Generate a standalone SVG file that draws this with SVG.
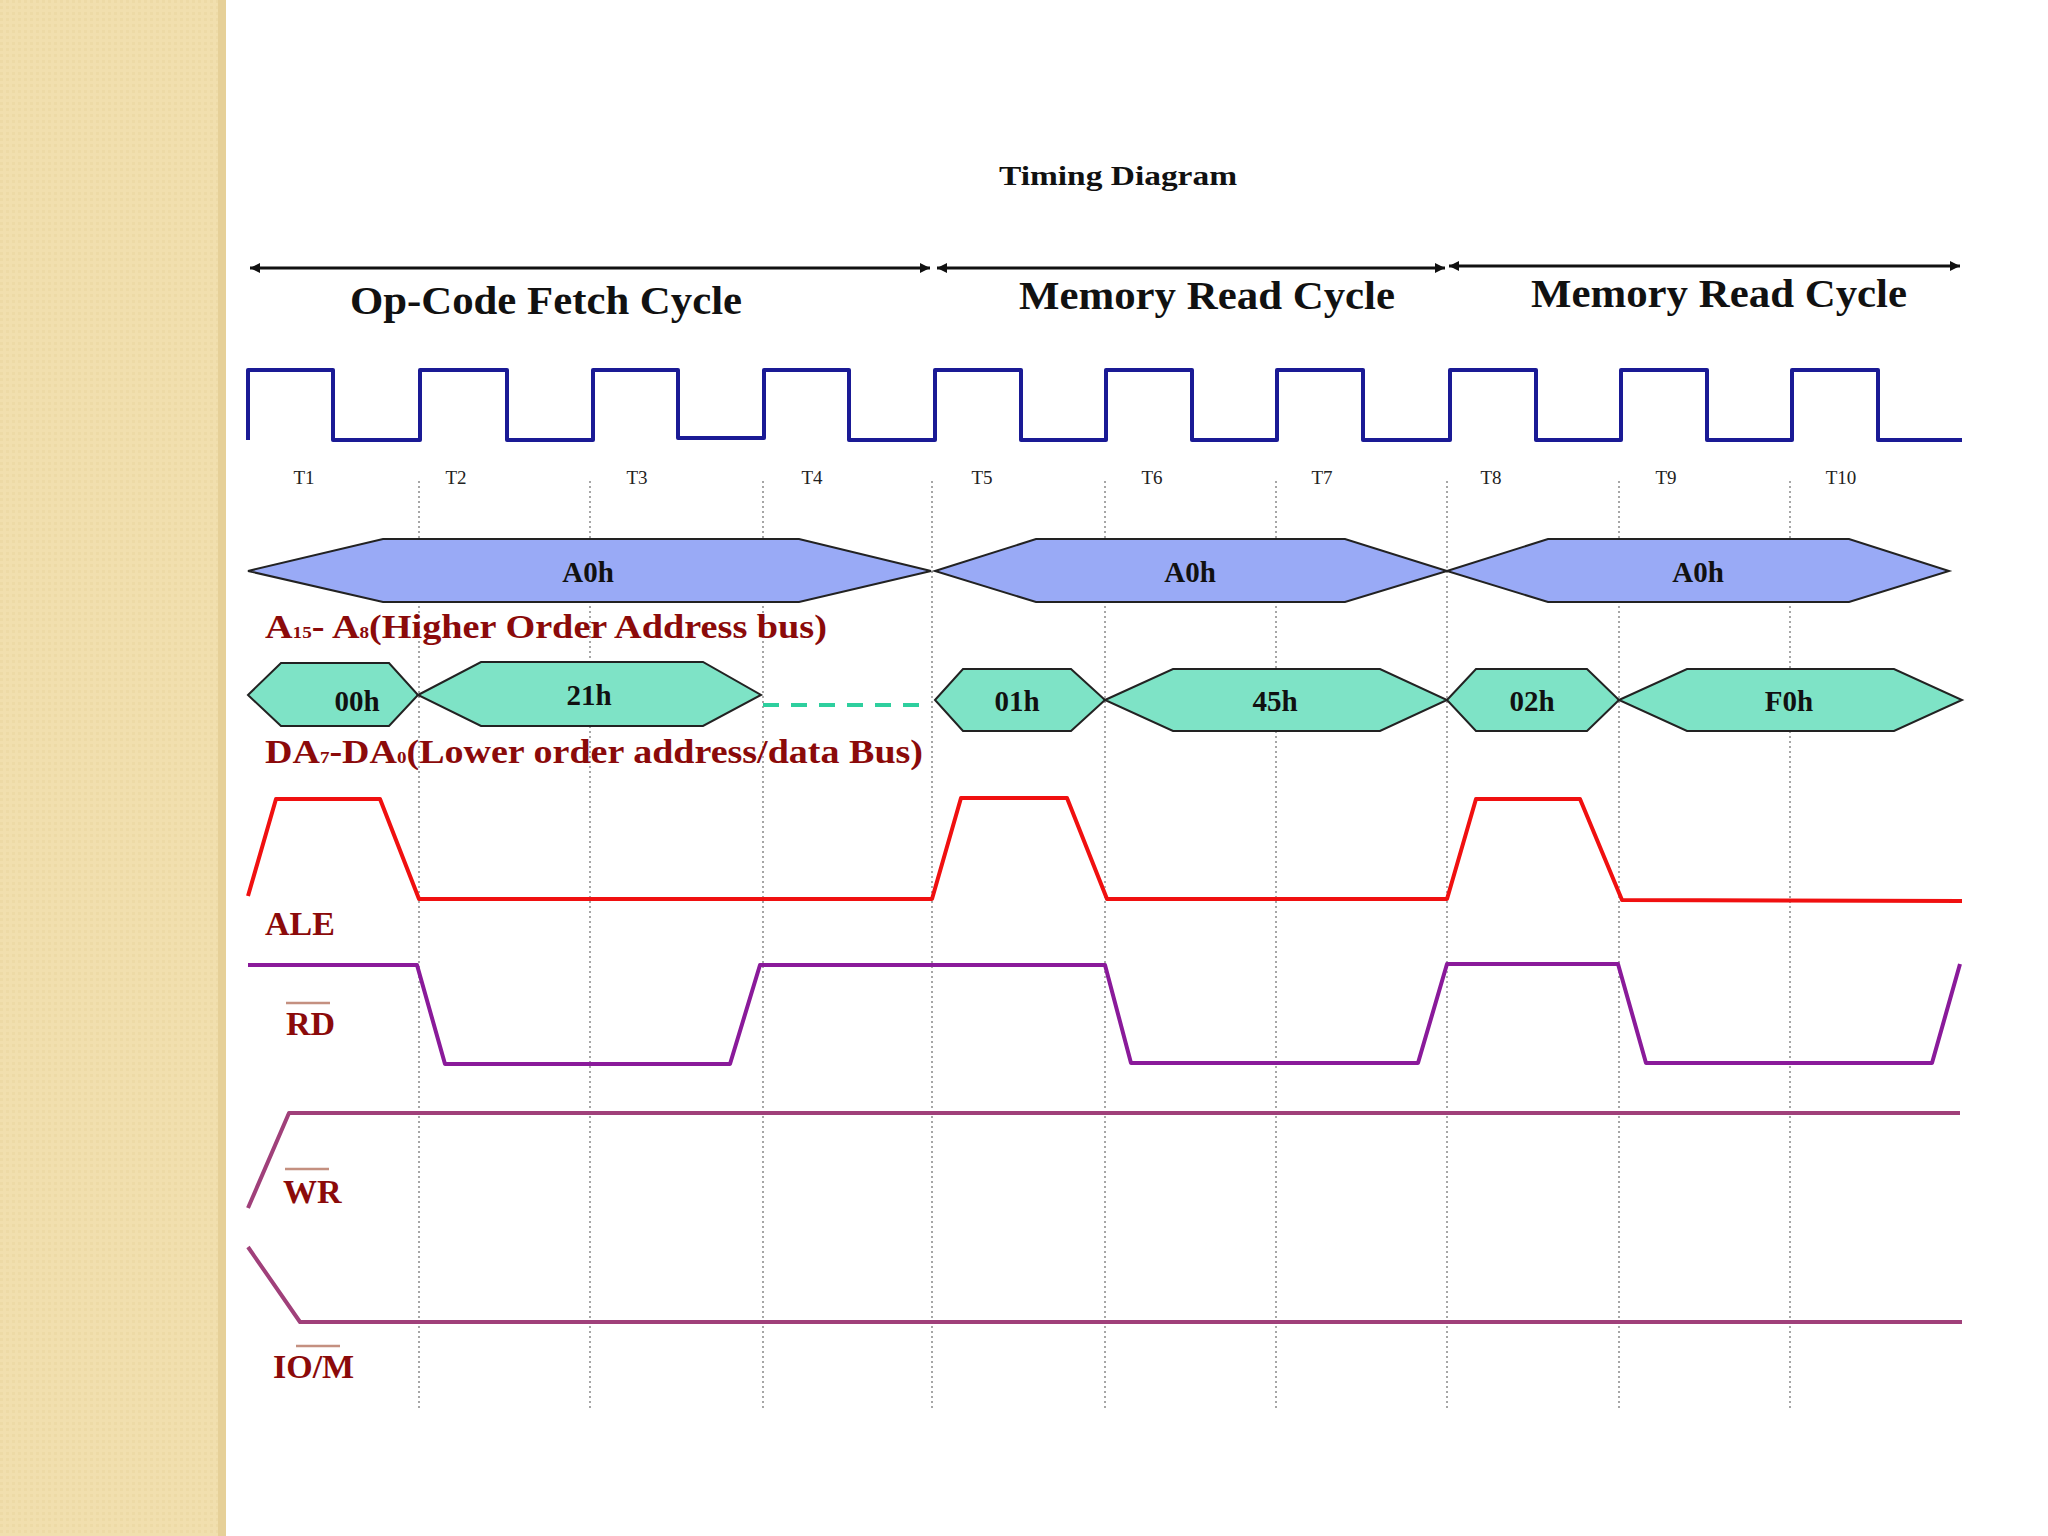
<svg xmlns="http://www.w3.org/2000/svg" width="2048" height="1536" viewBox="0 0 2048 1536">
<style>
.t{font-family:"Liberation Serif","Times New Roman",serif;font-weight:bold}
.lbl{font-family:"Liberation Serif",serif;font-weight:bold;fill:#8b0a0a;font-size:34px}
.tk{font-family:"Liberation Serif",serif;font-size:19px;fill:#222}
.bus{font-family:"Liberation Serif",serif;font-weight:bold;font-size:29px;fill:#111}
.grid{stroke:#777;stroke-width:1.3;stroke-dasharray:2 3}
.sig{fill:none;stroke-width:4;stroke-linejoin:round}
</style>
<defs>
<marker id="ah" viewBox="0 0 10 10" refX="10" refY="5" markerWidth="12" markerHeight="10" orient="auto-start-reverse" markerUnits="userSpaceOnUse"><path d="M0,0 L10,5 L0,10 z" fill="#111"/></marker>
<pattern id="bg" width="6" height="6" patternUnits="userSpaceOnUse"><rect width="6" height="6" fill="#f1dfae"/><rect width="3" height="3" fill="#eddaa6"/></pattern>
</defs>
<rect width="2048" height="1536" fill="#fff"/>
<rect width="226" height="1536" fill="url(#bg)"/>
<rect x="218" width="8" height="1536" fill="#e6d098"/>
<text class="t" x="999" y="185" font-size="27" textLength="238" lengthAdjust="spacingAndGlyphs" fill="#111">Timing Diagram</text>
<g id="connectors">
<line x1="250" y1="268" x2="930" y2="268" stroke="#111" stroke-width="3" marker-start="url(#ah)" marker-end="url(#ah)"/>
<line x1="937" y1="268" x2="1445" y2="268" stroke="#111" stroke-width="3" marker-start="url(#ah)" marker-end="url(#ah)"/>
<line x1="1449" y1="266" x2="1960" y2="266" stroke="#111" stroke-width="3" marker-start="url(#ah)" marker-end="url(#ah)"/>
</g>
<text class="t" x="350" y="314" font-size="39" textLength="392" lengthAdjust="spacingAndGlyphs" fill="#111">Op-Code Fetch Cycle</text>
<text class="t" x="1019" y="309" font-size="39" textLength="376" lengthAdjust="spacingAndGlyphs" fill="#111">Memory Read Cycle</text>
<text class="t" x="1531" y="307" font-size="39" textLength="376" lengthAdjust="spacingAndGlyphs" fill="#111">Memory Read Cycle</text>
<g id="grid">
<line class="grid" x1="419" y1="481" x2="419" y2="1408"/>
<line class="grid" x1="590" y1="481" x2="590" y2="1408"/>
<line class="grid" x1="763" y1="481" x2="763" y2="1408"/>
<line class="grid" x1="932" y1="481" x2="932" y2="1408"/>
<line class="grid" x1="1105" y1="481" x2="1105" y2="1408"/>
<line class="grid" x1="1276" y1="481" x2="1276" y2="1408"/>
<line class="grid" x1="1447" y1="481" x2="1447" y2="1408"/>
<line class="grid" x1="1619" y1="481" x2="1619" y2="1408"/>
<line class="grid" x1="1790" y1="481" x2="1790" y2="1408"/>
</g>
<g id="clock">
<path class="sig" stroke="#1a1a95" stroke-width="3.5" d="M248,440 V370 H333 V440 H420 V370 H507 V440 H593 V370 H678 V438 H764 V370 H849 V440 H935 V370 H1021 V440 H1106 V370 H1192 V440 H1277 V370 H1363 V440 H1450 V370 H1536 V440 H1621 V370 H1707 V440 H1792 V370 H1878 V440 H1962"/>
</g>
<g id="ticks">
<text class="tk" x="304" y="484" text-anchor="middle">T1</text>
<text class="tk" x="456" y="484" text-anchor="middle">T2</text>
<text class="tk" x="637" y="484" text-anchor="middle">T3</text>
<text class="tk" x="812" y="484" text-anchor="middle">T4</text>
<text class="tk" x="982" y="484" text-anchor="middle">T5</text>
<text class="tk" x="1152" y="484" text-anchor="middle">T6</text>
<text class="tk" x="1322" y="484" text-anchor="middle">T7</text>
<text class="tk" x="1491" y="484" text-anchor="middle">T8</text>
<text class="tk" x="1666" y="484" text-anchor="middle">T9</text>
<text class="tk" x="1841" y="484" text-anchor="middle">T10</text>
</g>
<g id="addr-hi">
<polygon points="248,571 383,539 799,539 931,571 799,602 383,602" fill="#99aaf6" stroke="#222" stroke-width="2"/>
<polygon points="935,571 1036,539 1345,539 1447,571 1345,602 1036,602" fill="#99aaf6" stroke="#222" stroke-width="2"/>
<polygon points="1447,571 1548,539 1849,539 1949,571 1849,602 1548,602" fill="#99aaf6" stroke="#222" stroke-width="2"/>
<text class="bus" x="588" y="582" text-anchor="middle">A0h</text>
<text class="bus" x="1190" y="582" text-anchor="middle">A0h</text>
<text class="bus" x="1698" y="582" text-anchor="middle">A0h</text>
<text class="lbl" x="265" y="638" textLength="562" lengthAdjust="spacingAndGlyphs">A<tspan font-size="17">15</tspan>- A<tspan font-size="17">8</tspan>(Higher Order Address bus)</text>
</g>
<g id="addr-lo">
<polygon points="248,695 281,663 389,663 418,695 389,726 281,726" fill="#7ee3c6" stroke="#222" stroke-width="2"/>
<polygon points="418,695 481,662 703,662 761,695 703,726 481,726" fill="#7ee3c6" stroke="#222" stroke-width="2"/>
<line x1="763" y1="705" x2="931" y2="705" stroke="#2ecf9e" stroke-width="4" stroke-dasharray="16 12"/>
<polygon points="935,700 963,669 1071,669 1105,700 1071,731 963,731" fill="#7ee3c6" stroke="#222" stroke-width="2"/>
<polygon points="1105,700 1173,669 1380,669 1447,700 1380,731 1173,731" fill="#7ee3c6" stroke="#222" stroke-width="2"/>
<polygon points="1447,700 1476,669 1587,669 1619,700 1587,731 1476,731" fill="#7ee3c6" stroke="#222" stroke-width="2"/>
<polygon points="1619,700 1687,669 1894,669 1962,700 1894,731 1687,731" fill="#7ee3c6" stroke="#222" stroke-width="2"/>
<text class="bus" x="357" y="711" text-anchor="middle">00h</text>
<text class="bus" x="589" y="705" text-anchor="middle">21h</text>
<text class="bus" x="1017" y="711" text-anchor="middle">01h</text>
<text class="bus" x="1275" y="711" text-anchor="middle">45h</text>
<text class="bus" x="1532" y="711" text-anchor="middle">02h</text>
<text class="bus" x="1789" y="711" text-anchor="middle">F0h</text>
<text class="lbl" x="265" y="763" textLength="658" lengthAdjust="spacingAndGlyphs">DA<tspan font-size="17">7</tspan>-DA<tspan font-size="17">0</tspan>(Lower order address/data Bus)</text>
</g>
<g id="ale">
<path class="sig" stroke="#f01010" d="M248,896 L276,799 L380,799 L419,899 L932,899 L961,798 L1067,798 L1107,899 L1447,899 L1476,799 L1580,799 L1622,900 L1962,901"/>
<text class="lbl" x="265" y="935">ALE</text>
</g>
<g id="rd">
<path class="sig" stroke="#8a1a9a" d="M248,965 L417,965 L445,1064 L730,1064 L760,965 L1105,965 L1131,1063 L1418,1063 L1447,964 L1618,964 L1646,1063 L1932,1063 L1960,964"/>
<line x1="286" y1="1003" x2="330" y2="1003" stroke="#c49080" stroke-width="2.5"/>
<text class="lbl" x="286" y="1035">RD</text>
</g>
<g id="wr">
<path class="sig" stroke="#a0407a" stroke-width="3.5" d="M248,1208 L289,1113 L1960,1113"/>
<line x1="285" y1="1169" x2="329" y2="1169" stroke="#c49080" stroke-width="2.5"/>
<text class="lbl" x="283" y="1203">WR</text>
</g>
<g id="iom">
<path class="sig" stroke="#a0407a" stroke-width="3.5" d="M248,1247 L300,1322 L1962,1322"/>
<line x1="296" y1="1346" x2="340" y2="1346" stroke="#c49080" stroke-width="2.5"/>
<text class="lbl" x="273" y="1378">IO/M</text>
</g>
</svg>
